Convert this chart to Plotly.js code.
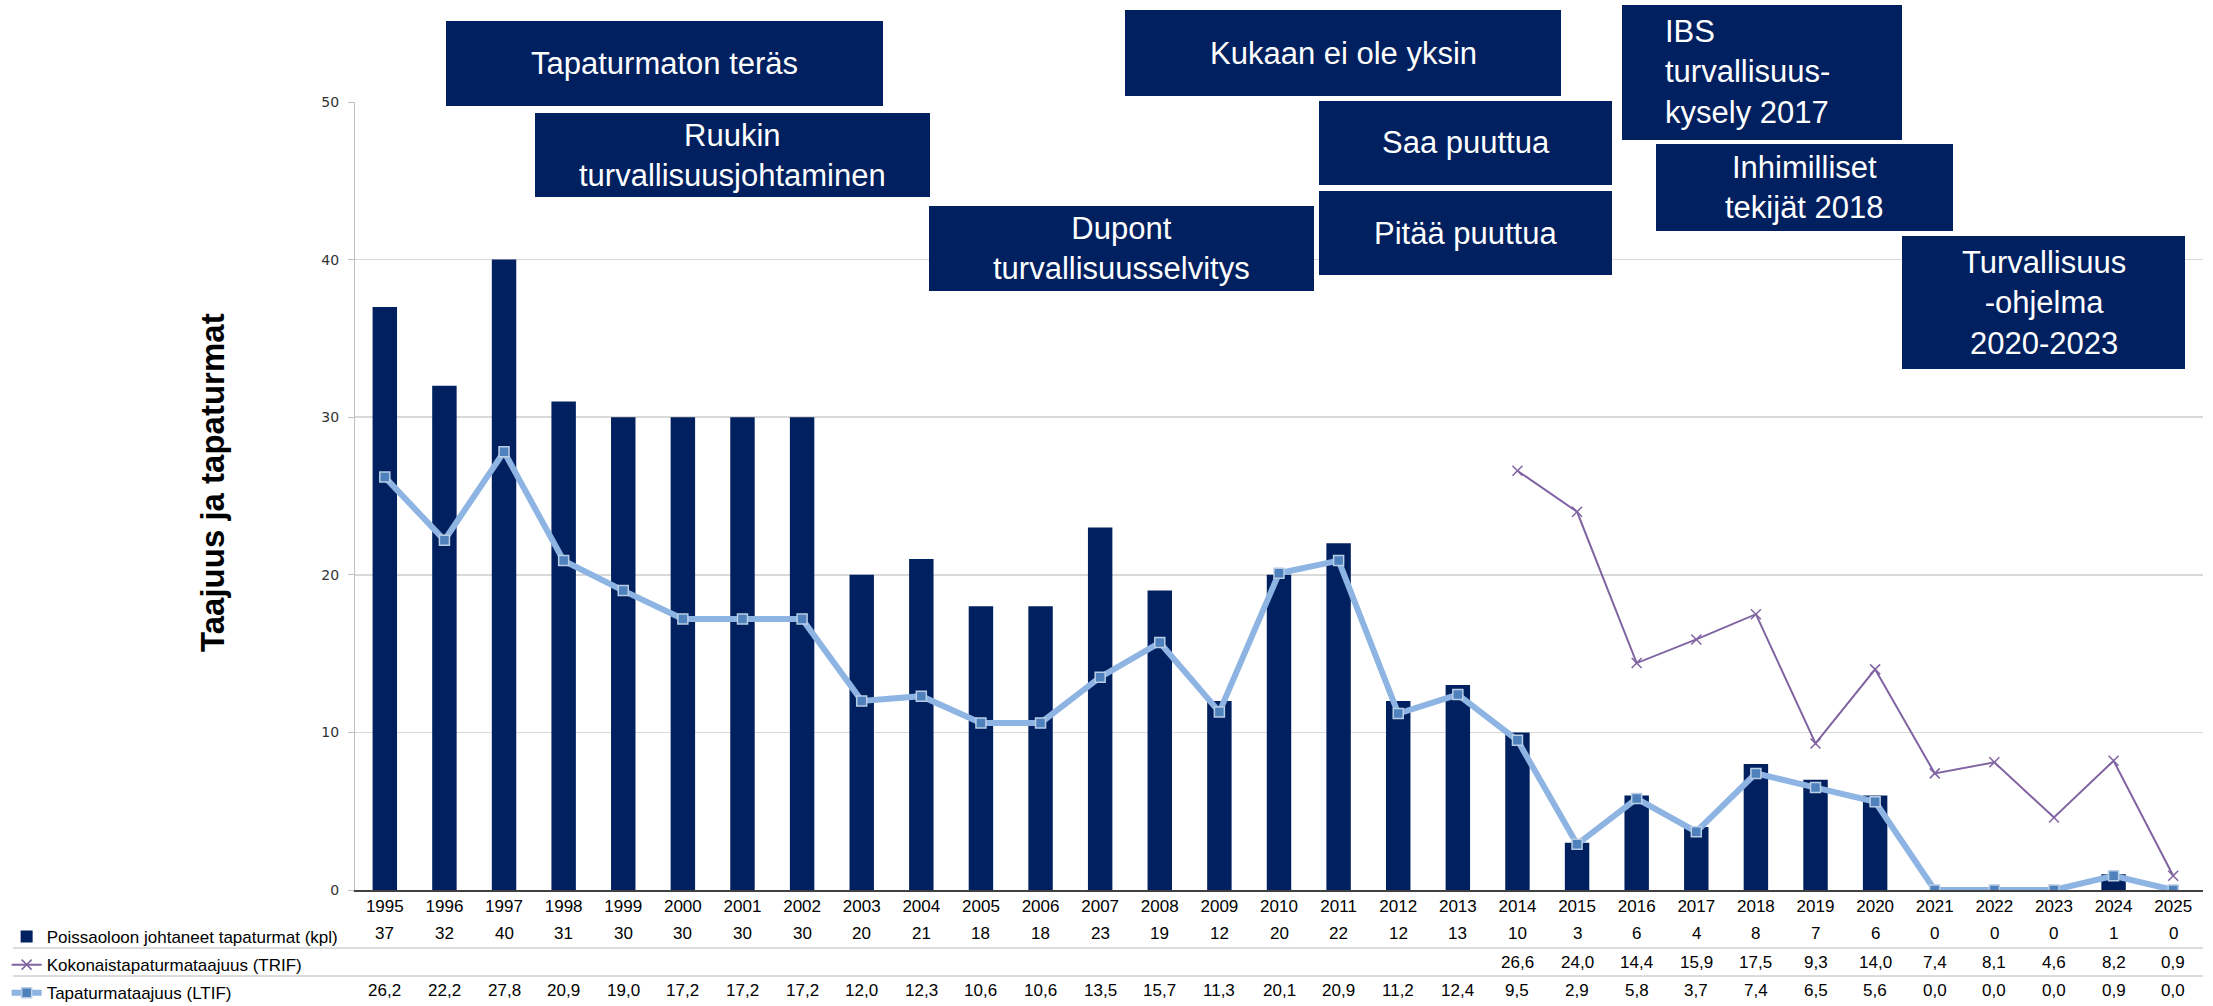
<!DOCTYPE html>
<html>
<head>
<meta charset="utf-8">
<script src="https://cdn.plot.ly/plotly-3.0.1.min.js"></script>
<style>html,body{margin:0;padding:0;background:#fff;overflow:hidden;}#chart{width:2213px;height:1006px;}</style>
</head>
<body>
<div id="chart"></div>
<script>
// ---- data ----
const years = ['1995','1996','1997','1998','1999','2000','2001','2002','2003','2004','2005','2006','2007','2008','2009','2010','2011','2012','2013','2014','2015','2016','2017','2018','2019','2020','2021','2022','2023','2024','2025'];
const lostTimeAccidents = [37,32,40,31,30,30,30,30,20,21,18,18,23,19,12,20,22,12,13,10,3,6,4,8,7,6,0,0,0,1,0];
const trif = [null,null,null,null,null,null,null,null,null,null,null,null,null,null,null,null,null,null,null,26.6,24.0,14.4,15.9,17.5,9.3,14.0,7.4,8.1,4.6,8.2,0.9];
const ltif = [26.2,22.2,27.8,20.9,19.0,17.2,17.2,17.2,12.0,12.3,10.6,10.6,13.5,15.7,11.3,20.1,20.9,11.2,12.4,9.5,2.9,5.8,3.7,7.4,6.5,5.6,0.0,0.0,0.0,0.9,0.0];
const seriesNames = ['Poissaoloon johtaneet tapaturmat (kpl)','Kokonaistapaturmataajuus (TRIF)','Tapaturmataajuus (LTIF)'];
const yTicks = [0,10,20,30,40,50];
const yTitle = 'Taajuus ja tapaturmat';
const boxLabels = ['Tapaturmaton teräs','Ruukin<br>turvallisuusjohtaminen','Dupont<br>turvallisuusselvitys','Kukaan ei ole yksin','Saa puuttua','Pitää puuttua','IBS<br>turvallisuus-<br>kysely 2017','Inhimilliset<br>tekijät 2018','Turvallisuus<br>-ohjelma<br>2020-2023'];

// ---- layout geometry ----
const W = 2213, H = 1006, ML = 355, MR = 10, MT = 102, MB = 116;
const PW = W - ML - MR, PH = H - MT - MB;
const px = v => (v - ML) / PW;
const py = v => (H - MB - v) / PH;
const FONT = 'Liberation Sans, Arial, sans-serif';
const NAVY = '#002060';

// box geometry in pixels [left, right, top, bottom], text align, text x (for left aligned)
const boxGeom = [
  [446, 883, 21, 106, 'center'],
  [535, 930, 113, 197, 'center'],
  [929, 1314, 206, 291, 'center'],
  [1125, 1561, 10, 96, 'center'],
  [1319, 1612, 101, 185, 'center'],
  [1319, 1612, 191, 275, 'center'],
  [1622, 1902, 5, 140, 'left', 1663],
  [1656, 1953, 144, 231, 'center'],
  [1902, 2185, 236, 369, 'center']
];

const fmt1 = v => v === null ? '' : v.toFixed(1).replace('.', ',');

const traces = [
  {
    type: 'bar', x: years, y: lostTimeAccidents, name: seriesNames[0],
    marker: {color: NAVY}, legendgroup: 'a', legendrank: 1
  },
  {
    type: 'scatter', mode: 'lines+markers', x: years, y: ltif, name: seriesNames[2],
    line: {color: '#8DB4E2', width: 6},
    marker: {symbol: 'square', size: 10, color: '#4F81BD', line: {color: '#B9CDE5', width: 1.5}},
    legendgroup: 'c', legendrank: 3
  },
  {
    type: 'scatter', mode: 'lines+markers', x: years, y: trif, name: seriesNames[1],
    line: {color: '#8064A2', width: 2},
    marker: {symbol: 'x-thin', size: 10, color: '#8064A2', line: {color: '#8064A2', width: 1.5}},
    connectgaps: false, legendgroup: 'b', legendrank: 2
  }
];

const shapes = [];
const annotations = [];

// data table row separators
[948, 976].forEach(yy => shapes.push({
  type: 'line', xref: 'paper', yref: 'paper', x0: px(13), x1: 1, y0: py(yy), y1: py(yy),
  line: {color: '#D0D0D0', width: 1.5}
}));

// data table values (x given as category index)
const rowY = [933, 962, 990];
years.forEach((yr, i) => {
  const rows = [String(lostTimeAccidents[i]), fmt1(trif[i]), fmt1(ltif[i])];
  rows.forEach((t, r) => {
    if (t === '') return;
    annotations.push({
      xref: 'x', yref: 'paper', x: i, y: py(rowY[r]), text: t, showarrow: false,
      xanchor: 'center', yanchor: 'middle', font: {family: FONT, size: 17, color: '#000'}
    });
  });
});

// y axis title
annotations.push({
  xref: 'paper', yref: 'paper', x: px(212), y: py(483), text: '<b>' + yTitle + '</b>',
  textangle: -90, showarrow: false, xanchor: 'center', yanchor: 'middle',
  font: {family: FONT, size: 33, color: '#000'}
});

// text boxes
boxLabels.forEach((lab, i) => {
  const g = boxGeom[i];
  shapes.push({
    type: 'rect', xref: 'paper', yref: 'paper', layer: 'above',
    x0: px(g[0]), x1: px(g[1]), y0: py(g[3]), y1: py(g[2]),
    fillcolor: NAVY, line: {width: 0}
  });
  const left = g[4] === 'left';
  annotations.push({
    xref: 'paper', yref: 'paper',
    x: left ? px(g[5]) : px((g[0] + g[1]) / 2),
    y: py((g[2] + g[3]) / 2),
    xanchor: left ? 'left' : 'center', yanchor: 'middle', align: left ? 'left' : 'center',
    text: lab, showarrow: false,
    font: {family: FONT, size: 31, color: '#FFFFFF'}
  });
});

const layout = {
  width: W, height: H,
  margin: {l: ML, r: MR, t: MT, b: MB, pad: 0},
  paper_bgcolor: '#FFFFFF', plot_bgcolor: '#FFFFFF',
  bargap: 0.59,
  showlegend: true,
  legend: {
    xref: 'container', yref: 'container', x: 0.003, y: 1 - 919 / H,
    xanchor: 'left', yanchor: 'top', orientation: 'v',
    traceorder: 'grouped', tracegroupgap: 3, itemwidth: 30,
    font: {family: FONT, size: 17, color: '#000'}, bgcolor: 'rgba(0,0,0,0)'
  },
  xaxis: {
    type: 'category', range: [-0.5, years.length - 0.5], autorange: false,
    showgrid: false, zeroline: false,
    showline: true, linecolor: '#404040', linewidth: 2,
    ticks: '', tickangle: 0, tickfont: {family: FONT, size: 17, color: '#000'},
    fixedrange: true
  },
  yaxis: {
    range: [0, 50], autorange: false, tickvals: yTicks, showgrid: true, gridcolor: '#D9D9D9', gridwidth: 1.5,
    zeroline: false, showline: true, linecolor: '#BFBFBF', linewidth: 1,
    ticks: 'outside', ticklen: 6, tickcolor: '#BFBFBF', ticklabelstandoff: 6,
    tickfont: {family: 'DejaVu Sans, Verdana, sans-serif', size: 14, color: '#333'},
    automargin: false, fixedrange: true
  },
  shapes: shapes,
  annotations: annotations
};

Plotly.newPlot('chart', traces, layout, {displayModeBar: false, staticPlot: true});
</script>
</body>
</html>
